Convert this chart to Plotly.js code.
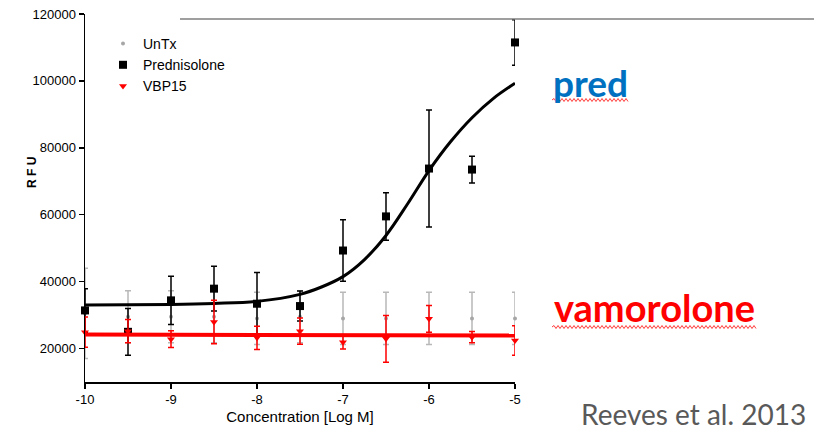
<!DOCTYPE html>
<html>
<head>
<meta charset="utf-8">
<script src="https://cdn.plot.ly/plotly-3.0.1.min.js"></script>
<style>
html,body{margin:0;padding:0;background:#fff;}
#chart{width:814px;height:430px;}
</style>
</head>
<body>
<div id="chart"></div>
<script>
// ---- data ----
const logConc = [-10, -9.5, -9, -8.5, -8, -7.5, -7, -6.5, -6, -5.5, -5];
const untx    = [30500, 29500, 29500, 29500, 29000, 29500, 29000, 29000, 29000, 29000, 29000];
const untxErr = [13500, 7800, 7800, 7800, 7800, 7800, 7800, 7800, 7800, 7800, 7800];
const pred    = [31400, 25000, 34400, 37900, 33400, 32700, 49300, 59500, 73800, 73500, 111500];
const predErr = [6500, 7000, 7200, 6700, 9300, 4500, 9200, 7100, 17500, 4000, 6800];
const vbp15   = [24900, 25200, 22800, 27900, 23200, 25200, 21900, 22900, 28900, 23400, 22400];
const vbpErr  = [4500, 3500, 2500, 6500, 3500, 3900, 2000, 7000, 4000, 1700, 4400];

// fitted curves
const predFitX = [-10, -9, -8.5, -8, -7.5, -7.25, -7, -6.75, -6.5, -6.25, -6, -5.75, -5.5, -5.25, -5];
const predFitY = [33000, 33200, 33500, 34100, 36200, 38400, 41500, 46600, 53800, 63200, 73200, 81800, 89000, 94800, 99300];
const vbpFitX  = [-10, -5];
const vbpFitY  = [24200, 23900];

const xTickVals = [-10, -9, -8, -7, -6, -5];
const xTickText = ['-10', '-9', '-8', '-7', '-6', '-5'];
const yTickVals = [20000, 40000, 60000, 80000, 100000, 120000];
const yTickText = ['20000', '40000', '60000', '80000', '100000', '120000'];

// ---- layout helpers (pixel -> paper) ----
const W = 814, H = 430, L = 85, R = 515, T = 14, B = 382;
const px = x => (x - L) / (R - L);
const py = y => (B - y) / (B - T);

function squiggle(x0, x1, y) {
  let d = 'M ' + px(x0) + ' ' + py(y);
  let up = true;
  for (let x = x0 + 2; x <= x1; x += 2) {
    d += ' L ' + px(x) + ' ' + py(y + (up ? -1.5 : 1.5));
    up = !up;
  }
  return {type: 'path', xref: 'paper', yref: 'paper', path: d,
          line: {color: '#ff3b3b', width: 1}};
}

const traces = [
  {x: logConc, y: untx, type: 'scatter', mode: 'markers', name: 'UnTx',
   marker: {symbol: 'circle', size: 4, color: '#a6a6a6'},
   error_y: {type: 'data', array: untxErr, visible: true, color: '#b8b8b8', thickness: 1.5, width: 3},
   cliponaxis: false},
  {x: predFitX, y: predFitY, type: 'scatter', mode: 'lines', showlegend: false,
   line: {color: '#000', width: 3, shape: 'spline', smoothing: 1}, hoverinfo: 'skip'},
  {x: logConc, y: pred, type: 'scatter', mode: 'markers', name: 'Prednisolone',
   marker: {symbol: 'square', size: 8, color: '#000'},
   error_y: {type: 'data', array: predErr, visible: true, color: '#000', thickness: 1.5, width: 3},
   cliponaxis: false},
  {x: vbpFitX, y: vbpFitY, type: 'scatter', mode: 'lines', showlegend: false,
   line: {color: '#ff0000', width: 4}, hoverinfo: 'skip'},
  {x: logConc, y: vbp15, type: 'scatter', mode: 'markers', name: 'VBP15',
   marker: {symbol: 'triangle-down', size: 7, color: '#ff0000'},
   error_y: {type: 'data', array: vbpErr, visible: true, color: '#ff0000', thickness: 1.5, width: 3},
   cliponaxis: false}
];

const axisFont = {family: 'Liberation Sans, Arial, sans-serif', size: 13, color: '#000'};

const layout = {
  width: W, height: H,
  margin: {l: L, r: W - R, t: T, b: H - B},
  paper_bgcolor: '#fff', plot_bgcolor: '#fff',
  showlegend: true,
  legend: {x: px(103), y: py(28), xanchor: 'left', yanchor: 'top',
           font: {family: 'Liberation Sans, Arial, sans-serif', size: 14, color: '#000'},
           bgcolor: 'rgba(0,0,0,0)', tracegroupgap: 0},
  xaxis: {range: [-10, -5], showline: true, linecolor: '#000', linewidth: 1.5,
          ticks: 'outside', ticklen: 5, tickwidth: 1.5, tickcolor: '#000',
          tickmode: 'array', tickvals: xTickVals, ticktext: xTickText,
          showgrid: false, zeroline: false, tickfont: axisFont,
          title: {text: 'Concentration [Log M]', font: {family: 'Liberation Sans, Arial, sans-serif', size: 15, color: '#000'}, standoff: 5}},
  yaxis: {range: [10000, 120000], showline: true, linecolor: '#000', linewidth: 1.5,
          ticks: 'outside', ticklen: 5, tickwidth: 1.5, tickcolor: '#000',
          tickmode: 'array', tickvals: yTickVals, ticktext: yTickText,
          showgrid: false, zeroline: false, tickfont: axisFont},
  shapes: [
    {type: 'line', xref: 'paper', yref: 'paper', x0: px(180), x1: px(814), y0: py(19), y1: py(19),
     line: {color: '#7f7f7f', width: 1.5}},
    squiggle(552, 628, 100),
    squiggle(552, 757, 327)
  ],
  annotations: [
    {text: '<b>R F U</b>', xref: 'paper', yref: 'paper', x: px(32), y: py(173), textangle: -90,
     xanchor: 'center', yanchor: 'middle', showarrow: false,
     font: {family: 'Liberation Sans, Arial, sans-serif', size: 12, color: '#000'}},
    {text: '<b>pred</b>', xref: 'paper', yref: 'paper', x: px(590), y: py(82),
     xanchor: 'center', yanchor: 'middle', showarrow: false,
     font: {family: 'Lato, sans-serif', size: 37, color: '#0070c0'}},
    {text: '<b>vamorolone</b>', xref: 'paper', yref: 'paper', x: px(654), y: py(307),
     xanchor: 'center', yanchor: 'middle', showarrow: false,
     font: {family: 'Lato, sans-serif', size: 38, color: '#ff0000'}},
    {text: 'Reeves et al. 2013', xref: 'paper', yref: 'paper', x: px(693), y: py(414),
     xanchor: 'center', yanchor: 'middle', showarrow: false,
     font: {family: 'Lato, sans-serif', size: 28, color: '#595959'}}
  ]
};

Plotly.newPlot('chart', traces, layout, {displayModeBar: false, staticPlot: true});
</script>
</body>
</html>
